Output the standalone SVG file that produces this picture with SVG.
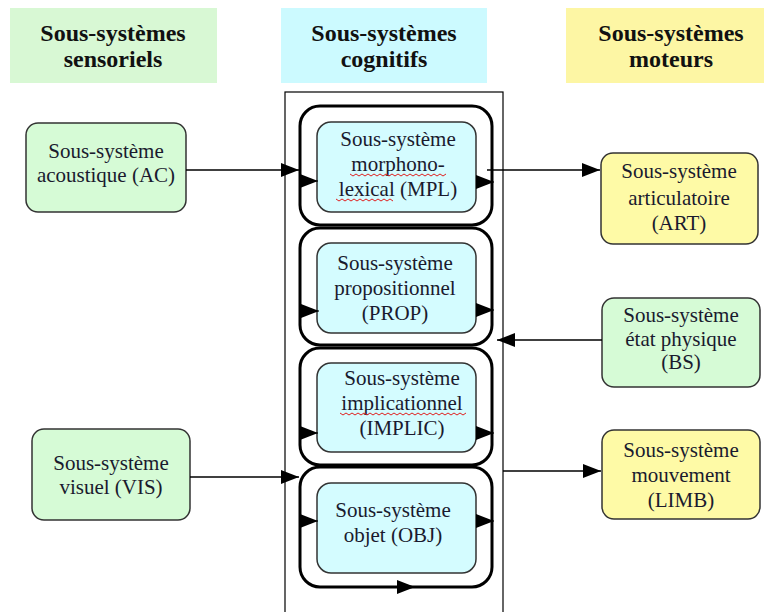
<svg xmlns="http://www.w3.org/2000/svg" width="764" height="612" viewBox="0 0 764 612">
<style>
  .hdr { font-family: "Liberation Serif", "Times New Roman", serif; font-weight: bold; font-size: 24px; fill: #111; text-anchor: middle; }
  .lbl { font-family: "Liberation Serif", "Times New Roman", serif; font-size: 21px; fill: #1a1a2e; text-anchor: middle; }
  .green { fill: #d6fbd6; stroke: #333; stroke-width: 1.5; }
  .yellow { fill: #fefaa6; stroke: #333; stroke-width: 1.5; }
  .cyan { fill: #d4fcff; stroke: #333; stroke-width: 1.5; }
  .loop { fill: none; stroke: #000; stroke-width: 3; }
  .edge { fill: none; stroke: #000; stroke-width: 1.3; marker-end: url(#arr); }
  .tick { fill: none; stroke: #000; stroke-width: 1; marker-end: url(#arr); }
  .spell { fill: none; stroke: #e02020; stroke-width: 1; }
</style>
<defs>
  <marker id="arr" markerUnits="userSpaceOnUse" markerWidth="18" markerHeight="14" viewBox="0 0 18 14" refX="18" refY="7" orient="auto">
    <path d="M0,0 L18,7 L0,14 z" fill="#000"/>
  </marker>
</defs>

<g id="headers">
  <g id="hdr-sensoriels">
    <rect x="10" y="8" width="207" height="75" fill="#d8f8d4"/>
    <text class="hdr" x="113" y="41">Sous-systèmes</text>
    <text class="hdr" x="113" y="67">sensoriels</text>
  </g>
  <g id="hdr-cognitifs">
    <rect x="281" y="8" width="206" height="75" fill="#ccfaff"/>
    <text class="hdr" x="384" y="41">Sous-systèmes</text>
    <text class="hdr" x="384" y="67">cognitifs</text>
  </g>
  <g id="hdr-moteurs">
    <rect x="566" y="8" width="206" height="75" fill="#fdf6a4"/>
    <text class="hdr" x="671" y="41">Sous-systèmes</text>
    <text class="hdr" x="671" y="67">moteurs</text>
  </g>
</g>

<g id="cognitive-frame">
  <rect x="285" y="92" width="218" height="540" fill="none" stroke="#000" stroke-width="1.2"/>
</g>

<g id="loop-MPL">
  <rect class="loop" x="300" y="106" width="192" height="119" rx="20"/>
</g>
<g id="loop-PROP">
  <rect class="loop" x="300" y="228" width="192" height="117" rx="20"/>
</g>
<g id="loop-IMPLIC">
  <rect class="loop" x="300" y="348" width="192" height="117" rx="20"/>
</g>
<g id="loop-OBJ">
  <rect class="loop" x="300" y="467" width="192" height="120" rx="20"/>
</g>

<g id="MPL">
  <rect class="cyan" x="317" y="122" width="159" height="90" rx="14"/>
  <text class="lbl" x="398" y="146">Sous-système</text>
  <text class="lbl" x="398" y="171">morphono-</text>
  <text class="lbl" x="398" y="196">lexical (MPL)</text>
  <path class="spell" d="M350,174 l3,2 l3,-2 l3,2 l3,-2 l3,2 l3,-2 l3,2 l3,-2 l3,2 l3,-2 l3,2 l3,-2 l3,2 l3,-2 l3,2 l3,-2 l3,2 l3,-2 l3,2 l3,-2 l3,2 l3,-2 l3,2 l3,-2 l3,2 l3,-2 l3,2 l3,-2 l3,2 l3,-2 l3,2 l3,-2"/>
  <path class="spell" d="M336,199 l3,2 l3,-2 l3,2 l3,-2 l3,2 l3,-2 l3,2 l3,-2 l3,2 l3,-2 l3,2 l3,-2 l3,2 l3,-2 l3,2 l3,-2 l3,2 l3,-2 l3,2"/>
</g>
<g id="PROP">
  <rect class="cyan" x="317" y="243" width="159" height="90" rx="14"/>
  <text class="lbl" x="395" y="270">Sous-système</text>
  <text class="lbl" x="395" y="295">propositionnel</text>
  <text class="lbl" x="395" y="320">(PROP)</text>
</g>
<g id="IMPLIC">
  <rect class="cyan" x="317" y="363" width="159" height="89" rx="14"/>
  <text class="lbl" x="402" y="385">Sous-système</text>
  <text class="lbl" x="402" y="410">implicationnel</text>
  <text class="lbl" x="402" y="435">(IMPLIC)</text>
  <path class="spell" d="M340,413 l3,2 l3,-2 l3,2 l3,-2 l3,2 l3,-2 l3,2 l3,-2 l3,2 l3,-2 l3,2 l3,-2 l3,2 l3,-2 l3,2 l3,-2 l3,2 l3,-2 l3,2 l3,-2 l3,2 l3,-2 l3,2 l3,-2 l3,2 l3,-2 l3,2 l3,-2 l3,2 l3,-2 l3,2 l3,-2 l3,2 l3,-2 l3,2 l3,-2 l3,2 l3,-2 l3,2 l3,-2 l3,2 l3,-2"/>
</g>
<g id="OBJ">
  <rect class="cyan" x="317" y="483" width="159" height="90" rx="14"/>
  <text class="lbl" x="393" y="517">Sous-système</text>
  <text class="lbl" x="393" y="542">objet (OBJ)</text>
</g>

<g id="AC">
  <rect class="green" x="26" y="123" width="160" height="89" rx="12"/>
  <text class="lbl" x="106" y="158">Sous-système</text>
  <text class="lbl" x="106" y="182">acoustique (AC)</text>
</g>
<g id="VIS">
  <rect class="green" x="32" y="429" width="158" height="91" rx="12"/>
  <text class="lbl" x="111" y="470">Sous-système</text>
  <text class="lbl" x="111" y="494">visuel (VIS)</text>
</g>
<g id="ART">
  <rect class="yellow" x="601" y="153" width="157" height="91" rx="12"/>
  <text class="lbl" x="679" y="178">Sous-système</text>
  <text class="lbl" x="679" y="205">articulatoire</text>
  <text class="lbl" x="679" y="230">(ART)</text>
</g>
<g id="BS">
  <rect class="green" x="602" y="298" width="158" height="89" rx="12"/>
  <text class="lbl" x="681" y="322">Sous-système</text>
  <text class="lbl" x="681" y="346">état physique</text>
  <text class="lbl" x="681" y="369">(BS)</text>
</g>
<g id="LIMB">
  <rect class="yellow" x="602" y="430" width="158" height="89" rx="12"/>
  <text class="lbl" x="681" y="457">Sous-système</text>
  <text class="lbl" x="681" y="482">mouvement</text>
  <text class="lbl" x="681" y="507">(LIMB)</text>
</g>

<g id="connectors">
  <line class="edge" x1="186" y1="170" x2="299" y2="170"/>
  <line class="edge" x1="190" y1="477" x2="299" y2="477"/>
  <line class="edge" x1="487" y1="170" x2="600" y2="170"/>
  <line class="edge" x1="602" y1="340" x2="497" y2="340"/>
  <line class="edge" x1="503" y1="471" x2="601" y2="471"/>
  <line class="tick" x1="300" y1="181" x2="318" y2="181"/>
  <line class="tick" x1="476" y1="182" x2="494" y2="182"/>
  <line class="tick" x1="300" y1="311" x2="319" y2="311"/>
  <line class="tick" x1="476" y1="310" x2="494" y2="310"/>
  <line class="tick" x1="300" y1="433" x2="318" y2="433"/>
  <line class="tick" x1="476" y1="433" x2="494" y2="433"/>
  <line class="tick" x1="300" y1="521" x2="318" y2="521"/>
  <line class="tick" x1="476" y1="521" x2="494" y2="521"/>
  <line class="tick" x1="390" y1="587" x2="415" y2="587"/>
</g>
</svg>
